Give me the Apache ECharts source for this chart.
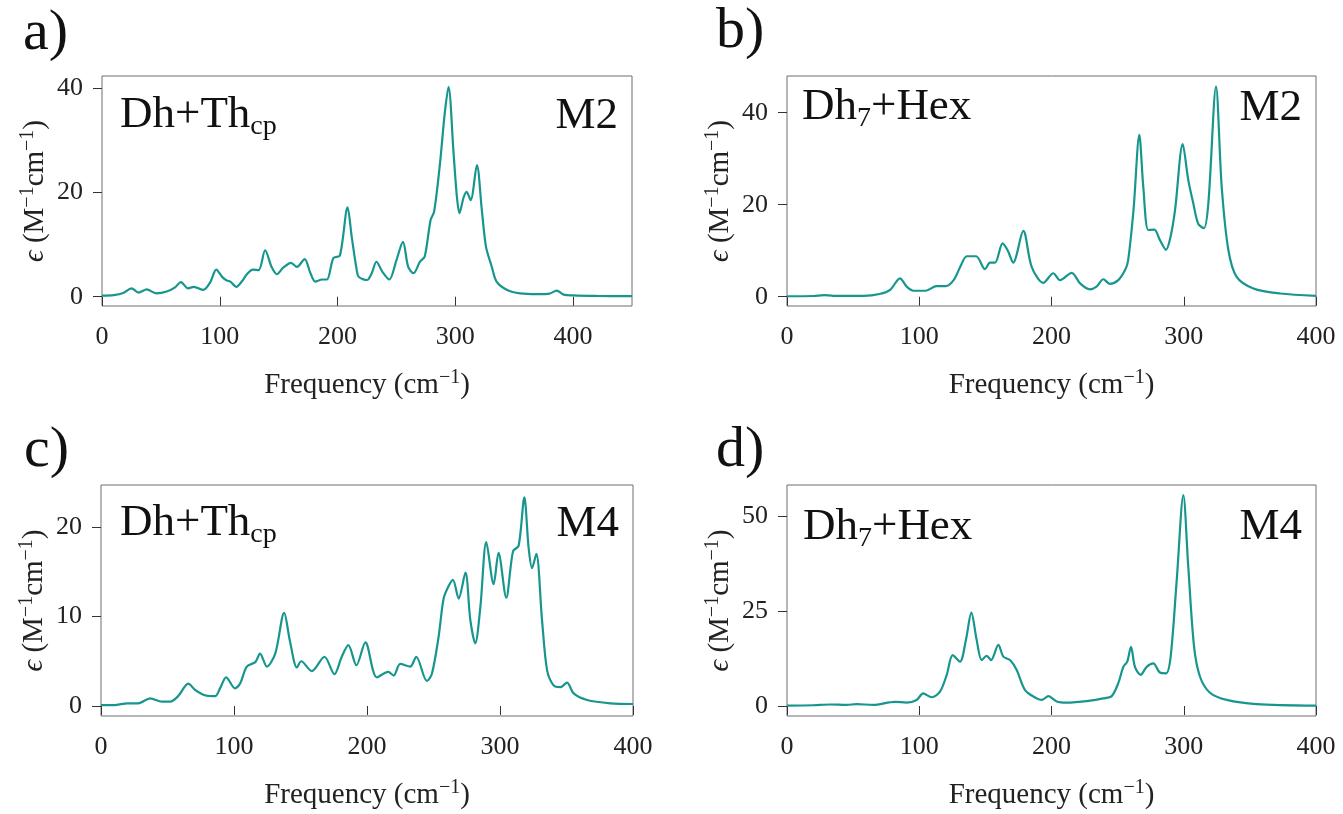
<!DOCTYPE html>
<html>
<head>
<meta charset="utf-8">
<script src="https://cdn.jsdelivr.net/npm/echarts@6/dist/echarts.min.js"></script>
<style>
html,body{margin:0;padding:0;background:#fff;}
#chart{width:1343px;height:814px;}
</style>
</head>
<body>
<div id="chart"></div>
<script>
// ---------- data ----------
const aX = [0,10,18,25,31,38,46,55,62,67,73,78,86,92,97,102,106,109,114,119,123,128,133,138.5,144,148.5,154,160.5,165.5,172,177,181,187,191,196.5,202,208.5,212,216,218,225,229,233,238,244,250,255.5,260,264.5,270,274,279,282,287,291,294.2,298.5,301.3,303.5,307,309.5,313,318.3,322.5,326,331,335,344,355,370,380,386,392,400,420,450];
const aY = [0.2,0.3,0.7,1.6,0.8,1.4,0.65,1.0,1.8,2.8,1.6,1.9,1.3,2.8,5.2,3.8,3.1,2.9,1.9,3.0,4.3,5.2,5.1,8.9,5.7,4.3,5.6,6.5,5.7,7.2,4.5,2.9,3.3,3.3,7.4,7.9,17.1,11.5,5.5,3.8,3.2,4.5,6.7,4.8,3.3,7.0,10.5,5.7,4.5,6.7,7.7,14.7,16.3,25.6,35.1,40.2,27.5,19.2,16.0,19.0,20.1,18.5,25.2,16.6,9.6,5.7,2.9,1.3,0.65,0.5,0.6,1.15,0.4,0.25,0.15,0.1];

const bX = [0,20,28,35,58,70,78,85.4,90.5,95.5,105,113,120,126,131,136,143,149.7,153.5,157.3,163,167,171,178.7,185,193.8,201.4,206.4,215.3,221.6,229,234,239.2,244,250.5,256,258,262,266.4,269.4,273.2,277.8,282,286.6,290,293.4,299.2,303.4,307.2,311,315.3,318.6,324.4,328.7,333.7,340,352.6,372.8,400];
const bY = [0.1,0.15,0.35,0.2,0.2,0.6,1.5,4.0,2.2,1.3,1.3,2.3,2.3,3.6,6.5,8.8,8.8,6.0,7.4,7.4,11.6,10.0,7.4,14.3,6.5,3.0,5.1,3.6,5.2,2.9,1.6,2.2,3.8,2.8,3.6,6.0,8.0,18.8,35.2,23.9,14.5,14.6,12.3,10.2,13.0,18.8,33.2,25.4,20.3,15.8,14.9,20.3,45.7,23.9,10.2,4.3,1.8,0.7,0.2];

const cX = [0,10,20,28,37,45.7,52,58,65.7,70.7,78,85.8,89.5,94.1,100.8,104.6,109.6,116,119.6,124.7,131,137.7,142,147.3,150.5,158.5,168,175.5,181,186,192,198.8,207.4,216,220,225,232.5,237,245,248.8,253.8,257.6,261,264.6,268.9,274,277.7,281.4,285.2,289.7,295.2,298.9,304.7,309.8,314,318.3,321.5,324.1,327.3,331.6,335.4,340.3,345.4,350.4,355.4,365.5,383,400];
const cY = [0.1,0.1,0.3,0.3,0.85,0.48,0.48,1.1,2.5,1.8,1.2,1.1,1.97,3.2,1.97,2.5,4.4,4.9,5.85,4.4,5.85,10.4,7.3,4.3,5.0,3.9,5.5,3.55,5.5,6.8,4.55,7.1,3.2,3.8,3.4,4.7,4.4,5.5,2.8,3.6,7.7,12.0,13.3,14.1,12.0,14.9,9.6,7.0,11.0,18.3,13.6,17.1,12.1,17.3,17.9,23.3,17.7,15.4,17.0,9.6,4.0,2.3,2.1,2.6,1.4,0.67,0.3,0.22];

const dX = [0,20,32.5,45,52.7,65,81.7,90.5,98,103,109.4,115.7,120.8,125.3,130.8,135.3,139.4,143.4,147.2,151,154.3,159.8,163.6,168.6,173.7,180,188.8,192.6,197.6,203.9,211.5,229,239,245.5,250.5,254.3,257.3,260.1,263.1,267.4,272,277,282,286.6,290.1,294.7,299.7,303.4,307.8,312.3,319.8,332.5,355,400];
const dY = [0.1,0.2,0.4,0.3,0.5,0.3,1.1,0.9,1.6,3.3,2.3,3.8,8.2,13.4,11.7,17.4,24.6,17.4,12.1,13.2,12.1,16.1,13.0,12.1,9.5,4.2,2.0,1.6,2.6,1.2,0.9,1.4,2.0,2.6,6.0,10.3,11.7,15.6,10.3,8.2,10.3,11.2,8.8,8.6,13.0,33.2,55.5,36.7,15.6,7.7,3.5,1.6,0.5,0.1];

const xTicksA = [0,100,200,300,400];
const xTicks = [0,100,200,300,400];
const yTicksA = [0,20,40];
const yTicksB = [0,20,40];
const yTicksC = [0,10,20];
const yTicksD = [0,25,50];

const panelLetters = ['a)','b)','c)','d)'];
const sysLabels = ['{m|Dh+Th}{s|cp}','{m|Dh}{s|7}{m|+Hex}','{m|Dh+Th}{s|cp}','{m|Dh}{s|7}{m|+Hex}'];
const modes = ['M2','M2','M4','M4'];
const xName = 'Frequency (cm{sup|−1})';
const yName = '{e|ϵ} (M{sup|−1}cm{sup|−1})';

// ---------- layout / style ----------
const LINE = '#17968e';
const SERIF = '"Liberation Serif", "DejaVu Serif", serif';
const grids = [
  {left:102, top:76, width:530, height:230},
  {left:787, top:76, width:529, height:230},
  {left:101, top:485, width:532, height:231},
  {left:787, top:485, width:529, height:231}
];
const xRanges = [[0,450],[0,400],[0,400],[0,400]];
const yRanges = [[-1.78,42.28],[-2.02,47.98],[-1.12,24.69],[-2.63,58.16]];
const xTickSets = [xTicksA, xTicks, xTicks, xTicks];
const yTickSets = [yTicksA, yTicksB, yTicksC, yTicksD];
const series = [[aX,aY],[bX,bY],[cX,cY],[dX,dY]];

const zip = (xs, ys) => xs.map((x,i)=>[x, ys[i]]);

const nameRich = {
  n:{fontFamily:SERIF, fontSize:29, lineHeight:35, color:'#222'},
  e:{fontFamily:SERIF, fontStyle:'italic', fontSize:29, lineHeight:35, color:'#222'},
  sup:{fontFamily:SERIF, fontSize:20, lineHeight:20, verticalAlign:'top', color:'#222'}
};

const option = {
  backgroundColor:'#fff',
  animation:false,
  grid: grids.map(g => Object.assign({show:true, borderColor:'#6f6f6f', borderWidth:1, backgroundColor:'transparent'}, g)),
  xAxis: grids.map((g,i)=>({
    type:'value', gridIndex:i, min:xRanges[i][0], max:xRanges[i][1],
    axisLine:{show:false},
    splitLine:{show:false},
    axisTick:{show:true, length:9, lineStyle:{color:'#333', width:1}, customValues:xTickSets[i]},
    axisLabel:{show:true, customValues:xTickSets[i], margin:18, color:'#222', fontFamily:SERIF, fontSize:26},
    name:xName, nameLocation:'middle', nameGap:62,
    nameTextStyle:{color:'#222', fontFamily:SERIF, fontSize:29, lineHeight:35, rich:nameRich}
  })),
  yAxis: grids.map((g,i)=>({
    type:'value', gridIndex:i, min:yRanges[i][0], max:yRanges[i][1],
    axisLine:{show:false},
    splitLine:{show:false},
    axisTick:{show:true, length:9, lineStyle:{color:'#333', width:1}, customValues:yTickSets[i]},
    axisLabel:{show:true, customValues:yTickSets[i], margin:19, color:'#222', fontFamily:SERIF, fontSize:26},
    name:yName, nameLocation:'middle', nameGap:45, nameRotate:90,
    nameTextStyle:{color:'#222', fontFamily:SERIF, fontSize:29, lineHeight:35, rich:nameRich}
  })),
  series: series.map((s,i)=>({
    type:'line', xAxisIndex:i, yAxisIndex:i,
    data: zip(s[0], s[1]),
    showSymbol:false, smooth:0.3,
    lineStyle:{color:LINE, width:2.2},
    itemStyle:{color:LINE}
  })),
  graphic: []
};

// panel letters (centre y; baseline ≈ centre + 0.3·size)
const letterPos = [[23,34],[716,32],[24,451],[716,451]];
panelLetters.forEach((t,i)=>{
  option.graphic.push({type:'text', x:letterPos[i][0], y:letterPos[i][1],
    style:{text:t, font:'58px ' + SERIF, fill:'#111', align:'left', verticalAlign:'middle'}});
});

// system labels with subscripts (rich text)
const sysPos = [[120,93],[802,85],[120,501],[803,505]];
const richDef = {
  m:{fontFamily:SERIF, fontSize:45, lineHeight:45, verticalAlign:'top', fill:'#111', color:'#111'},
  s:{fontFamily:SERIF, fontSize:28, lineHeight:68, fill:'#111', color:'#111'}
};
sysLabels.forEach((t,i)=>{
  option.graphic.push({type:'text', x:sysPos[i][0], y:sysPos[i][1],
    style:{text:t, rich:richDef, fill:'#111', align:'left', verticalAlign:'top'}});
});

// mode labels (right aligned, centre y)
const modePos = [[618,116],[1302,108],[619,524],[1302,527]];
modes.forEach((t,i)=>{
  option.graphic.push({type:'text', x:modePos[i][0], y:modePos[i][1],
    style:{text:t, font:'45px ' + SERIF, fill:'#111', align:'right', verticalAlign:'middle'}});
});

const chart = echarts.init(document.getElementById('chart'), null, {renderer:'canvas'});
chart.setOption(option);
</script>
</body>
</html>
